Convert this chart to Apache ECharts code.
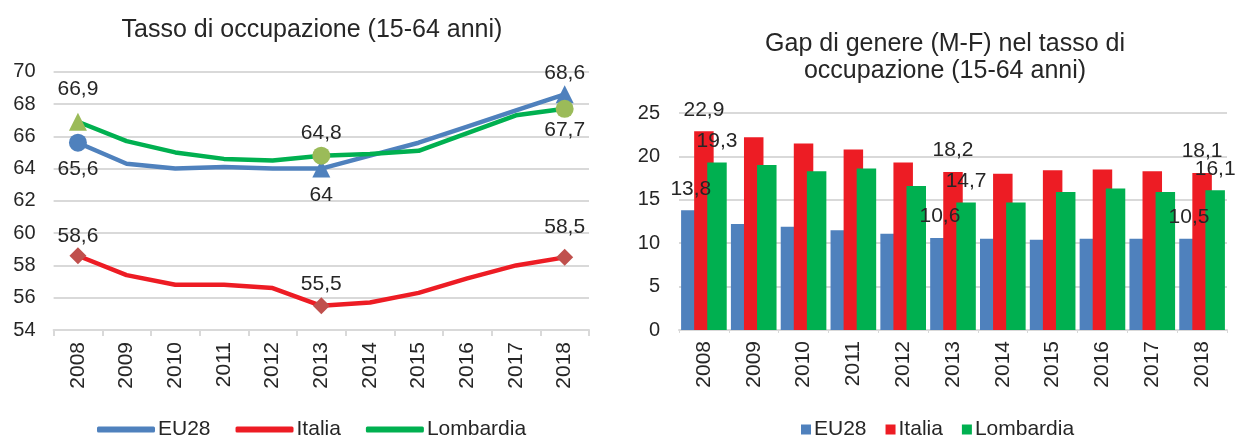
<!DOCTYPE html>
<html>
<head>
<meta charset="utf-8">
<script src="https://cdn.jsdelivr.net/npm/echarts@6/dist/echarts.min.js"></script>
<style>
html,body{margin:0;padding:0;background:#fff;}
#c{width:1235px;height:437px;}
</style>
</head>
<body>
<div id="c"></div>
<script>
// ---- Data ----
const years = ['2008','2009','2010','2011','2012','2013','2014','2015','2016','2017','2018'];
const seriesNames = ['EU28','Italia','Lombardia'];

// Tasso di occupazione (15-64 anni)
const occEU28      = [65.6, 64.3, 64.0, 64.1, 64.0, 64.0, 64.8, 65.6, 66.6, 67.6, 68.6];
const occItalia    = [58.6, 57.4, 56.8, 56.8, 56.6, 55.5, 55.7, 56.3, 57.2, 58.0, 58.5];
const occLombardia = [66.9, 65.7, 65.0, 64.6, 64.5, 64.8, 64.9, 65.1, 66.2, 67.3, 67.7];

// Gap di genere (M-F)
const gapEU28      = [13.8, 12.2, 11.9, 11.5, 11.1, 10.6, 10.5, 10.4, 10.5, 10.5, 10.5];
const gapItalia    = [22.9, 22.2, 21.5, 20.8, 19.3, 18.2, 18.0, 18.4, 18.5, 18.3, 18.1];
const gapLombardia = [19.3, 19.0, 18.3, 18.6, 16.6, 14.7, 14.7, 15.9, 16.3, 15.9, 16.1];

const occTicks = {min: 54, max: 70, interval: 2};
const gapTicks = {min: 0, max: 25, interval: 5};

// ---- Styles ----
const TXT = '#262626';
const GRID = '#D9D9D9';
const FONT = 'Liberation Sans, Arial, sans-serif';
const C_EU = '#4F81BD', C_IT = '#ED1C24', C_LO = '#00B050';
const M_IT = '#C0504D', M_LO = '#9BBB59';

const fmt = p => String(p.value).replace('.', ',');

// marker/label styling per point index (style only)
const lineMarks = {
  EU28: {0:{s:'circle',c:C_EU,pos:'bottom',d:7}, 5:{s:'triangle',c:C_EU,pos:'bottom',d:7}, 10:{s:'triangle',c:C_EU,pos:'top',d:2}},
  Italia: {0:{s:'diamond',c:M_IT,pos:'top',d:1}, 5:{s:'diamond',c:M_IT,pos:'top',d:3}, 10:{s:'diamond',c:M_IT,pos:'top',d:11}},
  Lombardia: {0:{s:'triangle',c:M_LO,pos:'top',d:13}, 5:{s:'circle',c:M_LO,pos:'top',d:3}, 10:{s:'circle',c:M_LO,pos:'bottom',d:2}}
};
function lineData(vals, name){
  return vals.map((v,i)=>{
    const m = lineMarks[name][i];
    if(!m) return {value:v, symbol:'none'};
    return {value:v, symbol:m.s, symbolSize: m.s==='diamond'?17:18, itemStyle:{color:m.c},
      label:{show:true, position:m.pos, distance:m.d, formatter:fmt, fontSize:21, color:TXT, fontFamily:FONT}};
  });
}
const labelIdx = [0,5,10];
function barData(vals){
  return vals.map((v,i)=> labelIdx.includes(i)
    ? {value:v, label:{show:true, position:'top', distance:11, formatter:fmt, fontSize:21, color:TXT, fontFamily:FONT}}
    : {value:v});
}
function lineSeries(name, vals, color){
  return {type:'line', name, data:lineData(vals,name), xAxisIndex:0, yAxisIndex:0,
    symbol:'none', showAllSymbol:true, lineStyle:{width:4.5, color, cap:'round', join:'round'},
    itemStyle:{color}, emphasis:{disabled:true}, z:2, animation:false};
}
function barSeries(name, vals, color){
  return {type:'bar', name, data:barData(vals), xAxisIndex:1, yAxisIndex:1,
    barWidth:19.5, barGap:'-33%', itemStyle:{color}, emphasis:{disabled:true}, animation:false};
}

const chart = echarts.init(document.getElementById('c'), null, {renderer:'canvas'});
chart.setOption({
  backgroundColor:'#fff',
  textStyle:{fontFamily:FONT},
  title:[
    {text:'Tasso di occupazione (15-64 anni)', left:307, top:13, textAlign:'center',
     textStyle:{fontSize:25, fontWeight:'normal', color:TXT, fontFamily:FONT}},
    {text:'Gap di genere (M-F) nel tasso di\noccupazione (15-64 anni)', left:940, top:26, textAlign:'center',
     textStyle:{fontSize:25, fontWeight:'normal', color:TXT, fontFamily:FONT, lineHeight:27, align:'center'}}
  ],
  legend:[
    {data:seriesNames, left:92, top:414, icon:'roundRect', itemWidth:58, itemHeight:6, itemGap:25,
     textStyle:{fontSize:21, color:TXT, fontFamily:FONT, padding:[0,0,0,-2]}, selectedMode:false},
    {data:seriesNames, left:796, top:414, icon:'rect', itemWidth:10, itemHeight:10, itemGap:19,
     textStyle:{fontSize:21, color:TXT, fontFamily:FONT, padding:[0,0,0,-2]}, selectedMode:false}
  ],
  grid:[
    {left:53.6, right:646, top:71.7, bottom:107},
    {left:679, right:8, top:113, bottom:107}
  ],
  xAxis:[
    {type:'category', data:years, gridIndex:0, boundaryGap:true,
     axisLine:{lineStyle:{color:GRID, width:2}},
     axisTick:{show:true, length:6, lineStyle:{color:GRID, width:2}},
     axisLabel:{rotate:90, fontSize:21, color:TXT, margin:12, fontFamily:FONT}},
    {type:'category', data:years, gridIndex:1, boundaryGap:true,
     axisLine:{lineStyle:{color:GRID, width:2}},
     axisTick:{show:true, length:3, lineStyle:{color:GRID, width:1}},
     axisLabel:{rotate:90, fontSize:21, color:TXT, margin:11, fontFamily:FONT}}
  ],
  yAxis:[
    {type:'value', gridIndex:0, min:occTicks.min, max:occTicks.max, interval:occTicks.interval,
     axisLine:{show:false}, axisTick:{show:false},
     splitLine:{lineStyle:{color:GRID, width:2}},
     axisLabel:{fontSize:20, color:TXT, margin:18, fontFamily:FONT}},
    {type:'value', gridIndex:1, min:gapTicks.min, max:gapTicks.max, interval:gapTicks.interval,
     axisLine:{show:false}, axisTick:{show:false},
     splitLine:{lineStyle:{color:GRID, width:2}},
     axisLabel:{fontSize:20, color:TXT, margin:19, fontFamily:FONT}}
  ],
  series:[
    lineSeries('EU28', occEU28, C_EU),
    lineSeries('Italia', occItalia, C_IT),
    lineSeries('Lombardia', occLombardia, C_LO),
    barSeries('EU28', gapEU28, C_EU),
    barSeries('Italia', gapItalia, C_IT),
    barSeries('Lombardia', gapLombardia, C_LO)
  ]
});
</script>
</body>
</html>
